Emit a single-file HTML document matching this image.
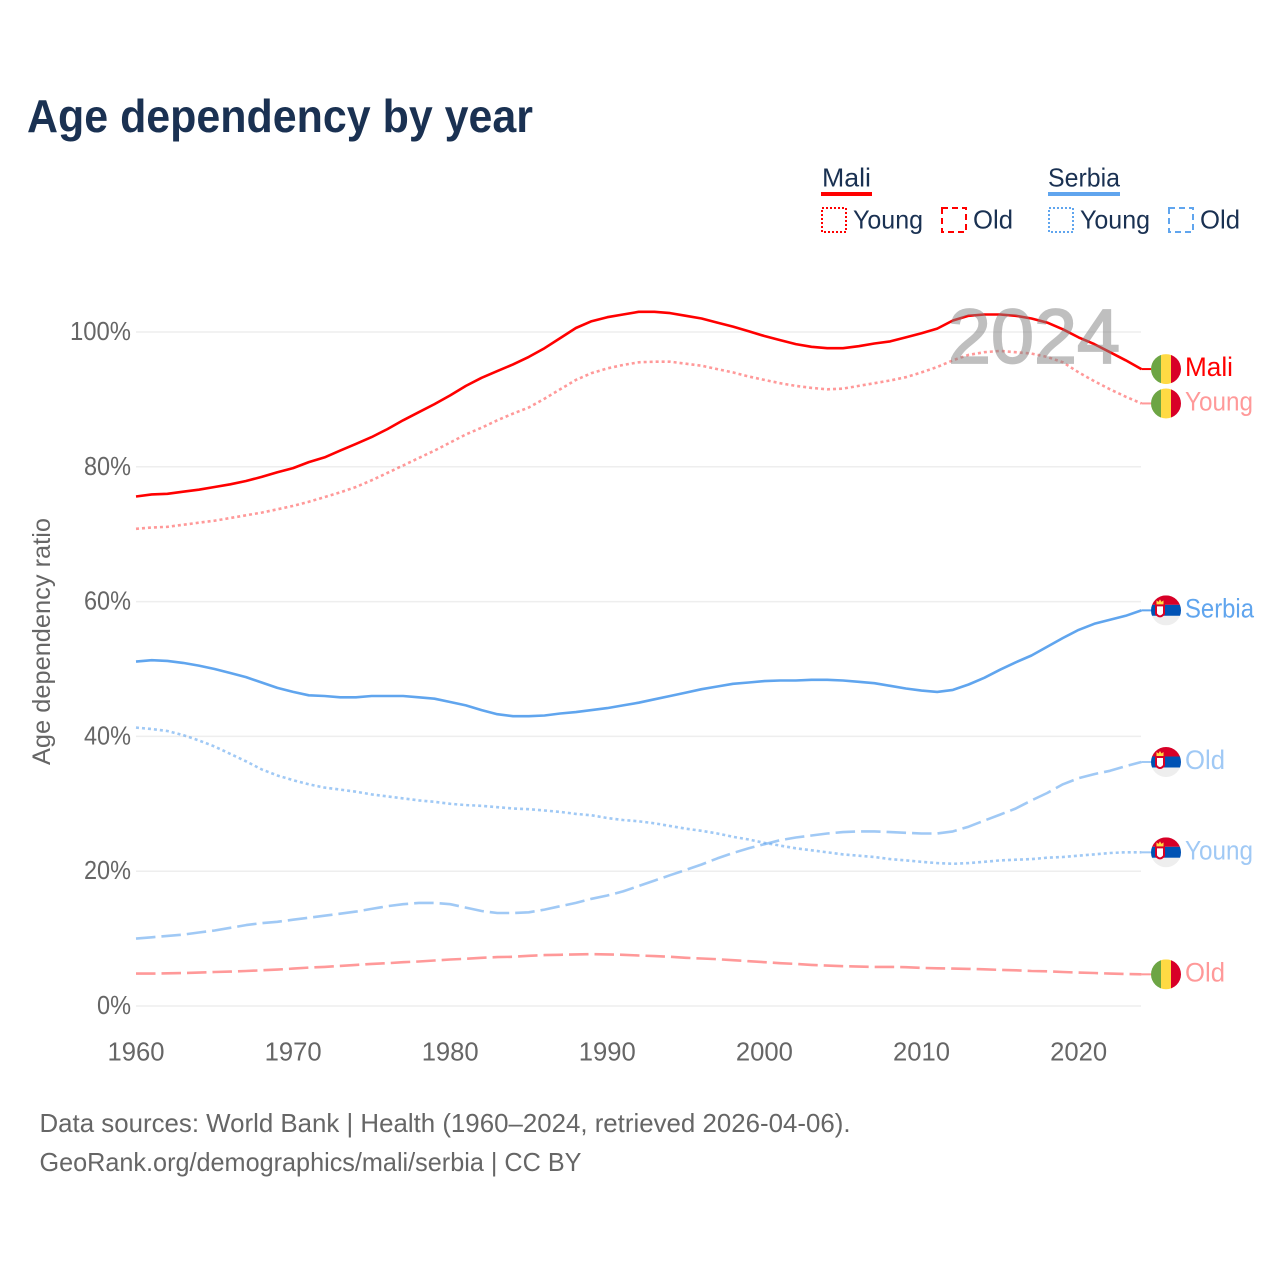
<!DOCTYPE html>
<html lang="en">
<head>
<meta charset="utf-8">
<title>Age dependency by year</title>
<style>
html,body{margin:0;padding:0;background:#fff;}
svg{display:block;font-family:"Liberation Sans",sans-serif;}
</style>
</head>
<body>
<svg id="chart" width="1280" height="1280" viewBox="0 0 1280 1280" xmlns="http://www.w3.org/2000/svg">
  <defs>
    <clipPath id="flag-clip"><circle cx="0" cy="0" r="15"></circle></clipPath>
  </defs>
  <rect x="0" y="0" width="1280" height="1280" fill="#ffffff"></rect>
  <text x="27" y="132" font-size="46" font-weight="700" fill="#1a3152" textLength="506" lengthAdjust="spacingAndGlyphs">Age dependency by year</text>

  <g font-size="26" fill="#1a3152">
    <text x="822" y="186.5" textLength="49" lengthAdjust="spacingAndGlyphs">Mali</text>
    <rect x="821" y="192" width="51" height="4" fill="#ff0000"></rect>
    <rect x="822" y="208" width="24" height="24" fill="none" stroke="#ff0000" stroke-width="2" stroke-dasharray="2 2"></rect>
    <text x="853" y="228.5" textLength="70" lengthAdjust="spacingAndGlyphs">Young</text>
    <rect x="942" y="208" width="24" height="24" fill="none" stroke="#ff0000" stroke-width="2" stroke-dasharray="6 4"></rect>
    <text x="973" y="228.5" textLength="40" lengthAdjust="spacingAndGlyphs">Old</text>
    <text x="1048" y="186.5" textLength="72" lengthAdjust="spacingAndGlyphs">Serbia</text>
    <rect x="1048" y="192" width="72" height="4" fill="#60a5ee"></rect>
    <rect x="1049" y="208" width="24" height="24" fill="none" stroke="#60a5ee" stroke-width="2" stroke-dasharray="2 2"></rect>
    <text x="1080" y="228.5" textLength="70" lengthAdjust="spacingAndGlyphs">Young</text>
    <rect x="1169" y="208" width="24" height="24" fill="none" stroke="#60a5ee" stroke-width="2" stroke-dasharray="6 4"></rect>
    <text x="1200" y="228.5" textLength="40" lengthAdjust="spacingAndGlyphs">Old</text>
  </g>

  <g id="grid"></g>
  <g id="yticks" font-size="26" fill="#666666"></g>
  <g id="xticks" font-size="26" fill="#666666"></g>
  <text transform="translate(50,765) rotate(-90)" font-size="25" fill="#666666" textLength="247" lengthAdjust="spacingAndGlyphs">Age dependency ratio</text>
  <g id="series"></g>
  <text x="948" y="363" font-size="77" fill="#808080" stroke="#808080" stroke-width="1.8" opacity="0.5" textLength="172" lengthAdjust="spacingAndGlyphs">2024</text>
  <g id="endlabels" font-size="27"></g>

  <text x="39.5" y="1132" font-size="26" fill="#666666" textLength="811" lengthAdjust="spacingAndGlyphs">Data sources: World Bank | Health (1960–2024, retrieved 2026-04-06).</text>
  <text x="39.5" y="1171" font-size="26" fill="#666666" textLength="542" lengthAdjust="spacingAndGlyphs">GeoRank.org/demographics/mali/serbia | CC BY</text>
</svg>
<script>
const startYear = 1960;
const xTickYears = [1960, 1970, 1980, 1990, 2000, 2010, 2020];
const yTickValues = [0, 20, 40, 60, 80, 100];
const maliTotal = [75.6,75.9,76.0,76.3,76.6,77.0,77.4,77.9,78.5,79.2,79.8,80.7,81.4,82.4,83.4,84.4,85.6,86.9,88.1,89.3,90.6,92.0,93.2,94.2,95.2,96.3,97.6,99.1,100.6,101.6,102.2,102.6,103.0,103.0,102.8,102.4,102.0,101.4,100.8,100.1,99.4,98.8,98.2,97.8,97.6,97.6,97.9,98.3,98.6,99.2,99.8,100.5,101.7,102.4,102.6,102.6,102.4,102.0,101.4,100.4,99.2,98.2,97.0,95.8,94.5];
const maliYoung = [70.8,71.0,71.1,71.4,71.7,72.0,72.4,72.8,73.2,73.7,74.2,74.8,75.5,76.2,77.0,78.0,79.1,80.2,81.3,82.4,83.6,84.8,85.8,86.9,87.9,88.8,90.1,91.5,92.9,93.9,94.6,95.1,95.5,95.6,95.6,95.3,95.0,94.5,94.0,93.4,92.9,92.4,92.0,91.7,91.5,91.6,92.0,92.4,92.8,93.3,94.0,94.8,95.8,96.6,97.0,97.2,97.0,96.8,96.3,95.5,94.0,92.7,91.5,90.4,89.4];
const maliOld = [4.8,4.8,4.85,4.9,4.95,5.05,5.1,5.2,5.3,5.4,5.55,5.7,5.8,5.95,6.1,6.25,6.35,6.5,6.6,6.75,6.9,7.0,7.15,7.25,7.3,7.45,7.55,7.6,7.65,7.7,7.65,7.6,7.5,7.4,7.3,7.15,7.05,6.95,6.8,6.65,6.5,6.35,6.25,6.1,6.0,5.9,5.85,5.8,5.8,5.75,5.65,5.6,5.55,5.5,5.45,5.35,5.3,5.2,5.15,5.05,4.95,4.9,4.8,4.75,4.7];
const serbiaTotal = [51.1,51.3,51.2,50.9,50.5,50.0,49.4,48.8,48.0,47.2,46.6,46.1,46.0,45.8,45.8,46.0,46.0,46.0,45.8,45.6,45.1,44.6,43.9,43.3,43.0,43.0,43.1,43.4,43.6,43.9,44.2,44.6,45.0,45.5,46.0,46.5,47.0,47.4,47.8,48.0,48.2,48.3,48.3,48.4,48.4,48.3,48.1,47.9,47.5,47.1,46.8,46.6,46.9,47.7,48.7,49.9,51.0,52.0,53.3,54.6,55.8,56.7,57.3,57.9,58.7];
const serbiaYoung = [41.3,41.1,40.8,40.2,39.4,38.5,37.4,36.3,35.1,34.2,33.5,32.9,32.4,32.1,31.8,31.4,31.1,30.8,30.5,30.3,30.0,29.8,29.7,29.5,29.3,29.2,29.0,28.8,28.5,28.3,27.9,27.6,27.4,27.1,26.7,26.3,26.0,25.6,25.1,24.7,24.2,23.8,23.4,23.1,22.8,22.5,22.3,22.1,21.8,21.6,21.4,21.2,21.1,21.2,21.4,21.6,21.7,21.8,22.0,22.1,22.3,22.5,22.7,22.8,22.8];
const serbiaOld = [10.0,10.2,10.4,10.6,10.9,11.2,11.6,12.0,12.3,12.5,12.8,13.1,13.4,13.7,14.0,14.4,14.8,15.1,15.3,15.3,15.1,14.6,14.1,13.8,13.8,13.9,14.3,14.8,15.3,15.9,16.4,17.0,17.8,18.6,19.4,20.2,21.0,21.9,22.7,23.4,24.0,24.6,25.0,25.3,25.6,25.8,25.9,25.9,25.8,25.7,25.6,25.6,25.9,26.6,27.5,28.4,29.3,30.5,31.6,32.9,33.8,34.4,34.9,35.6,36.2];

const NS = 'http://www.w3.org/2000/svg';
const xScale = function (year) { return 136 + (year - 1960) * 15.71; };
const yScale = function (value) { return 1006 - value * 6.74; };
function make(tag, parent, attrs, text) {
  const el = document.createElementNS(NS, tag);
  Object.keys(attrs).forEach(function (k) { el.setAttribute(k, attrs[k]); });
  if (text !== undefined) el.textContent = text;
  parent.appendChild(el);
  return el;
}

const gridG = document.getElementById('grid');
const yG = document.getElementById('yticks');
const xG = document.getElementById('xticks');
yTickValues.forEach(function (v) {
  const line = make('line', gridG, { x1: 136, x2: 1141, y1: yScale(v), y2: yScale(v), stroke: '#eeeeee', 'stroke-width': 1.5 });
  
  
  const tickWidth = v === 100 ? 61 : (v === 0 ? 34 : 47);
  const label = make('text', yG, { x: 131, y: yScale(v) + 8, 'text-anchor': 'end', textLength: tickWidth, lengthAdjust: 'spacingAndGlyphs' }, v + '%');
  
  
});
xTickYears.forEach(function (yr) {
  const label = make('text', xG, { x: xScale(yr), y: 1060.5, 'text-anchor': 'middle', textLength: 57, lengthAdjust: 'spacingAndGlyphs' }, String(yr));
  
  
});

const seriesG = document.getElementById('series');
function drawLine(values, color, opacity, dash, name) {
  const pts = values.map(function (v, i) { return xScale(startYear + i).toFixed(1) + ',' + yScale(v).toFixed(1); });
  const poly = make('polyline', seriesG, { points: pts.join(' '), fill: 'none', stroke: color, 'stroke-opacity': opacity, 'stroke-width': 2.6, 'stroke-linejoin': 'round' });
  if (dash) poly.setAttribute('stroke-dasharray', dash);
  
  
  return poly;
}
const RED = '#ff0000';
const BLUE = '#60a5ee';
const DOT = '3 3';
const DASH = '19.5 6';
drawLine(maliOld, RED, 0.4, DASH, 'line-mali-old');
drawLine(serbiaOld, BLUE, 0.6, DASH, 'line-serbia-old');
drawLine(serbiaYoung, BLUE, 0.6, DOT, 'line-serbia-young');
drawLine(serbiaTotal, BLUE, 1, null, 'line-serbia-total');
drawLine(maliYoung, RED, 0.4, DOT, 'line-mali-young');
drawLine(maliTotal, RED, 1, null, 'line-mali-total');

const endG = document.getElementById('endlabels');
function lastOf(a) { return a[a.length - 1]; }
function drawFlag(group, country) {
  const clip = make('g', group, { 'clip-path': 'url(#flag-clip)' });
  if (country === 'mali') {
    make('rect', clip, { x: -15, y: -15, width: 10, height: 30, fill: '#6da544' });
    make('rect', clip, { x: -5, y: -15, width: 10, height: 30, fill: '#ffda44' });
    make('rect', clip, { x: 5, y: -15, width: 10, height: 30, fill: '#d80027' });
  } else {
    make('rect', clip, { x: -15, y: -15, width: 30, height: 9.5, fill: '#d80027' });
    make('rect', clip, { x: -15, y: -5.5, width: 30, height: 11, fill: '#0052b4' });
    make('rect', clip, { x: -15, y: 5.5, width: 30, height: 9.5, fill: '#eeeeee' });
    make('path', clip, { d: 'M-11,-6 L-1,-6 L-1,4 Q-6,10 -11,4 Z', fill: '#d80027' });
    make('path', clip, { d: 'M-9,-4 L-3,-4 L-3,3 Q-6,7 -9,3 Z', fill: '#ffffff' });
    make('path', clip, { d: 'M-9.5,-6 L-9.5,-10 L-7.5,-8.5 L-6,-11 L-4.5,-8.5 L-2.5,-10 L-2.5,-6 Z', fill: '#ffda44' });
  }
}
function drawEnd(values, country, labelText, color, opacity, labelWidth, name) {
  const cy = yScale(lastOf(values));
  const g = make('g', endG, {});
  
  
  make('line', g, { x1: xScale(startYear + values.length - 1), x2: 1151, y1: cy, y2: cy, stroke: color, 'stroke-opacity': opacity, 'stroke-width': 2 });
  const flag = make('g', g, { transform: 'translate(1166,' + cy + ')' });
  
  
  drawFlag(flag, country);
  make('text', g, { x: 1185, y: cy + 7, fill: color, 'fill-opacity': opacity, textLength: labelWidth, lengthAdjust: 'spacingAndGlyphs' }, labelText);
}
drawEnd(maliTotal, 'mali', 'Mali', RED, 1, 48, 'end-label-mali');
drawEnd(maliYoung, 'mali', 'Young', RED, 0.4, 68, 'end-label-mali-young');
drawEnd(maliOld, 'mali', 'Old', RED, 0.4, 40, 'end-label-mali-old');
drawEnd(serbiaTotal, 'serbia', 'Serbia', BLUE, 1, 69, 'end-label-serbia');
drawEnd(serbiaOld, 'serbia', 'Old', BLUE, 0.6, 40, 'end-label-serbia-old');
drawEnd(serbiaYoung, 'serbia', 'Young', BLUE, 0.6, 68, 'end-label-serbia-young');
</script>
</body>
</html>
